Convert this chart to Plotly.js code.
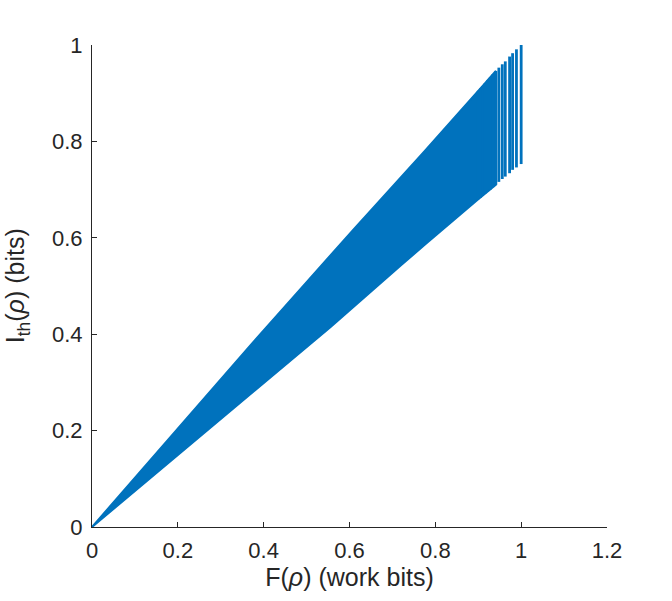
<!DOCTYPE html>
<html>
<head>
<meta charset="utf-8">
<script src="https://cdn.plot.ly/plotly-3.0.1.min.js"></script>
<style>html,body{margin:0;padding:0;background:#fff;}#chart{width:672px;height:601px;}</style>
</head>
<body>
<div id="chart"></div>
<script>
// Dense part of the fan: upper and lower edges
var edgeTopF = [0, 0.124, 0.229, 0.369, 0.486, 0.607, 0.776, 0.836, 0.900, 0.905, 0.910, 0.916, 0.922, 0.928, 0.934, 0.941];
var edgeTopI = [0, 0.127, 0.235, 0.377, 0.494, 0.615, 0.781, 0.840, 0.905, 0.910, 0.915, 0.921, 0.927, 0.933, 0.939, 0.946];
var edgeBotF = [0.941, 0.900, 0.776, 0.720, 0.556, 0.369, 0.252, 0.124, 0];
var edgeBotI = [0.710, 0.680, 0.586, 0.543, 0.415, 0.275, 0.188, 0.092, 0];

// Individually visible vertical segments at the right end
var segF    = [0.900, 0.905, 0.910, 0.916, 0.922, 0.928, 0.934, 0.941, 0.948, 0.956, 0.963, 0.973, 0.980, 0.989, 1.000];
var segTop  = [0.905, 0.910, 0.915, 0.921, 0.927, 0.933, 0.939, 0.946, 0.953, 0.960, 0.966, 0.976, 0.983, 0.991, 1.000];
var segLow  = [0.680, 0.683, 0.687, 0.692, 0.696, 0.700, 0.705, 0.710, 0.716, 0.722, 0.727, 0.734, 0.741, 0.746, 0.753];

var xTicks = [0, 0.2, 0.4, 0.6, 0.8, 1, 1.2];
var xTickText = ['0', '0.2', '0.4', '0.6', '0.8', '1', '1.2'];
var yTicks = [0, 0.2, 0.4, 0.6, 0.8, 1];
var yTickText = ['0', '0.2', '0.4', '0.6', '0.8', '1'];

var xTitle = 'F(<i>ρ</i>) (work bits)';
var yTitle = 'I<sub>th</sub>(<i>ρ</i>) (bits)';

var blue = '#0072BD';

var polyX = edgeTopF.concat(edgeBotF);
var polyY = edgeTopI.concat(edgeBotI);

var segX = [], segY = [];
for (var i = 0; i < segF.length; i++) {
  segX.push(segF[i], segF[i], null);
  segY.push(segLow[i], segTop[i], null);
}

var traces = [
  {x: polyX, y: polyY, type: 'scatter', mode: 'lines', fill: 'toself',
   fillcolor: blue, line: {color: blue, width: 2}, hoverinfo: 'skip', showlegend: false},
  {x: segX, y: segY, type: 'scatter', mode: 'lines', connectgaps: false,
   line: {color: blue, width: 2.8}, hoverinfo: 'skip', showlegend: false}
];

var axisFont = {family: 'Liberation Sans, Arial, sans-serif', size: 22, color: '#262626'};
var titleFont = {family: 'Liberation Sans, Arial, sans-serif', size: 25, color: '#262626'};

var layout = {
  width: 672, height: 601,
  margin: {l: 92, r: 65, t: 45, b: 74},
  paper_bgcolor: '#fff', plot_bgcolor: '#fff',
  showlegend: false,
  xaxis: {
    range: [0, 1.2], tickvals: xTicks, ticktext: xTickText,
    ticks: 'inside', ticklen: 5, tickwidth: 1, tickcolor: '#262626',
    showline: true, linecolor: '#262626', linewidth: 1, mirror: false,
    showgrid: false, zeroline: false, tickfont: axisFont, ticklabelstandoff: 4,
    automargin: false,
    title: {text: xTitle, font: titleFont, standoff: 6}
  },
  yaxis: {
    range: [0, 1], tickvals: yTicks, ticktext: yTickText,
    ticks: 'inside', ticklen: 5, tickwidth: 1, tickcolor: '#262626',
    showline: true, linecolor: '#262626', linewidth: 1, mirror: false,
    showgrid: false, zeroline: false, tickfont: axisFont, ticklabelstandoff: 4,
    automargin: false
  },
  annotations: [{
    text: yTitle, textangle: -90, showarrow: false,
    xref: 'paper', yref: 'paper', x: -0.145, y: 0.5,
    xanchor: 'center', yanchor: 'middle', font: titleFont
  }]
};

Plotly.newPlot('chart', traces, layout, {staticPlot: true, displayModeBar: false});
</script>
</body>
</html>
